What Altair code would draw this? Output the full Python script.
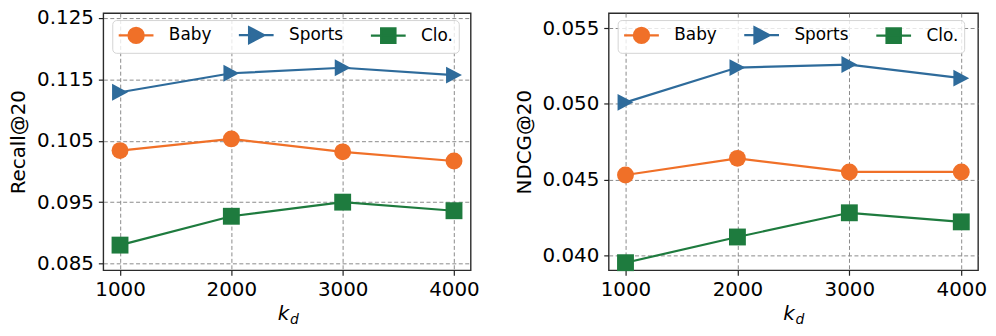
import altair as alt
import pandas as pd

k_values = [1000, 2000, 3000, 4000]
series = ["Baby", "Sports", "Clo."]
colors = ["#f07028", "#2e6b9b", "#1e7b3e"]

recall_baby = [0.1034, 0.1053, 0.1032, 0.1017]
recall_sports = [0.1129, 0.1160, 0.1169, 0.1157]
recall_clo = [0.0880, 0.0927, 0.0950, 0.0936]

ndcg_baby = [0.0453, 0.0464, 0.0455, 0.0455]
ndcg_sports = [0.0501, 0.0524, 0.0526, 0.0517]
ndcg_clo = [0.0395, 0.0412, 0.0428, 0.0422]

recall_ticks = [0.085, 0.095, 0.105, 0.115, 0.125]
ndcg_ticks = [0.040, 0.045, 0.050, 0.055]

FONT = "DejaVu Sans"

marker_paths = [
    "circle",
    "M-0.94,-1 L0.94,0 L-0.94,1 Z",
    "square",
]
# legend symbols: line segment + marker (drawn to the right of the nominal symbol box)
legend_paths = [
    "M-1,0 L3.12,0 M1.96,0 A0.9,0.9 0 1,1 0.16,0 A0.9,0.9 0 1,1 1.96,0 Z",
    "M-1,0 L3.12,0 M0.21,-0.95 L2.01,0 L0.21,0.95 Z",
    "M-1,0 L3.12,0 M0.21,-0.85 L1.91,-0.85 L1.91,0.85 L0.21,0.85 Z",
]

# per-entry legend colour, looked up from the arrays above
color_expr = "[{}][indexof([{}], datum.value)]".format(
    ",".join("'%s'" % c for c in colors), ",".join("'%s'" % s for s in series))


def make_df(vals):
    rows = []
    for s, v in zip(series, vals):
        for kk, yy in zip(k_values, v):
            rows.append({"k": kk, "value": yy, "series": s})
    return pd.DataFrame(rows)


H = 259


def panel(vals, ytitle, ydomain, yticks, width):
    df = make_df(vals)
    base = alt.Chart(df)
    x = alt.X("k:Q", scale=alt.Scale(domain=[850, 4150], nice=False, zero=False),
              axis=alt.Axis(values=k_values, format="d", title="k", titleX=181,
                            titleY=50, titleBaseline="alphabetic", titleAlign="center",
                            titleFontStyle="italic"))
    y = alt.Y("value:Q", scale=alt.Scale(domain=ydomain, nice=False, zero=False),
              axis=alt.Axis(values=yticks, format=".3f", title=ytitle))
    cscale = alt.Scale(domain=series, range=colors)
    line = base.mark_line(strokeWidth=2.2).encode(
        x=x, y=y, color=alt.Color("series:N", scale=cscale, legend=None))
    pts = []
    for s, shp in zip(series, marker_paths):
        pts.append(base.transform_filter(alt.datum.series == s).mark_point(
            filled=True, size=289, opacity=1, shape=shp).encode(
            x=x, y=y, color=alt.Color("series:N", scale=cscale, legend=None)))
    leg = alt.Legend(orient="none", legendX=9, legendY=7, direction="horizontal", columns=3,
                     title=None, labelFont=FONT, labelFontSize=17, labelColor="black",
                     padding=5, strokeColor="#d4d4d4", fillColor="rgba(255,255,255,0.8)",
                     cornerRadius=4, columnPadding=23, labelOffset=32, symbolSize=289,
                     symbolStrokeWidth=2.2, symbolOpacity=1,
                     symbolFillColor=alt.ExprRef(expr=color_expr),
                     symbolStrokeColor=alt.ExprRef(expr=color_expr))
    legl = base.mark_point(filled=True, opacity=0).encode(
        x=x, y=y,
        fill=alt.Fill("series:N", scale=alt.Scale(domain=series, range=colors), legend=None),
        stroke=alt.Stroke("series:N", scale=alt.Scale(domain=series, range=colors), legend=None),
        shape=alt.Shape("series:N", scale=alt.Scale(domain=series, range=legend_paths), legend=leg))
    sub = alt.Chart(pd.DataFrame({"t": ["d"]})).mark_text(
        font=FONT, fontSize=14, fontStyle="italic", align="left", baseline="alphabetic",
        color="black").encode(text="t:N", x=alt.value(188), y=alt.value(313))
    return alt.layer(line, *pts, legl, sub).resolve_scale(shape="independent").properties(
        width=width, height=H)


left = panel([recall_baby, recall_sports, recall_clo], "Recall@20", [0.0839, 0.1258], recall_ticks, 370)
right = panel([ndcg_baby, ndcg_sports, ndcg_clo], "NDCG@20", [0.039, 0.056], ndcg_ticks, 372)

chart = alt.hconcat(left, right, spacing=33).properties(
    padding={"left": 0, "top": -2, "right": 0, "bottom": 0}
).configure(font=FONT).configure_view(stroke="#2b2b2b", strokeWidth=1.4).configure_axis(
    labelFont=FONT, titleFont=FONT, labelFontSize=20, titleFontSize=20,
    labelColor="black", titleColor="black", titleFontWeight="normal",
    domain=False, tickColor="#222222", tickSize=5, tickWidth=1.2, labelPadding=4,
    grid=True, gridDash=[4, 2.5], gridColor="#8a8a8a", gridWidth=1, gridOpacity=1,
).configure_axisY(titlePadding=8, labelPadding=5)

chart.save("out.html", embed_options={"renderer": "svg", "actions": False})
